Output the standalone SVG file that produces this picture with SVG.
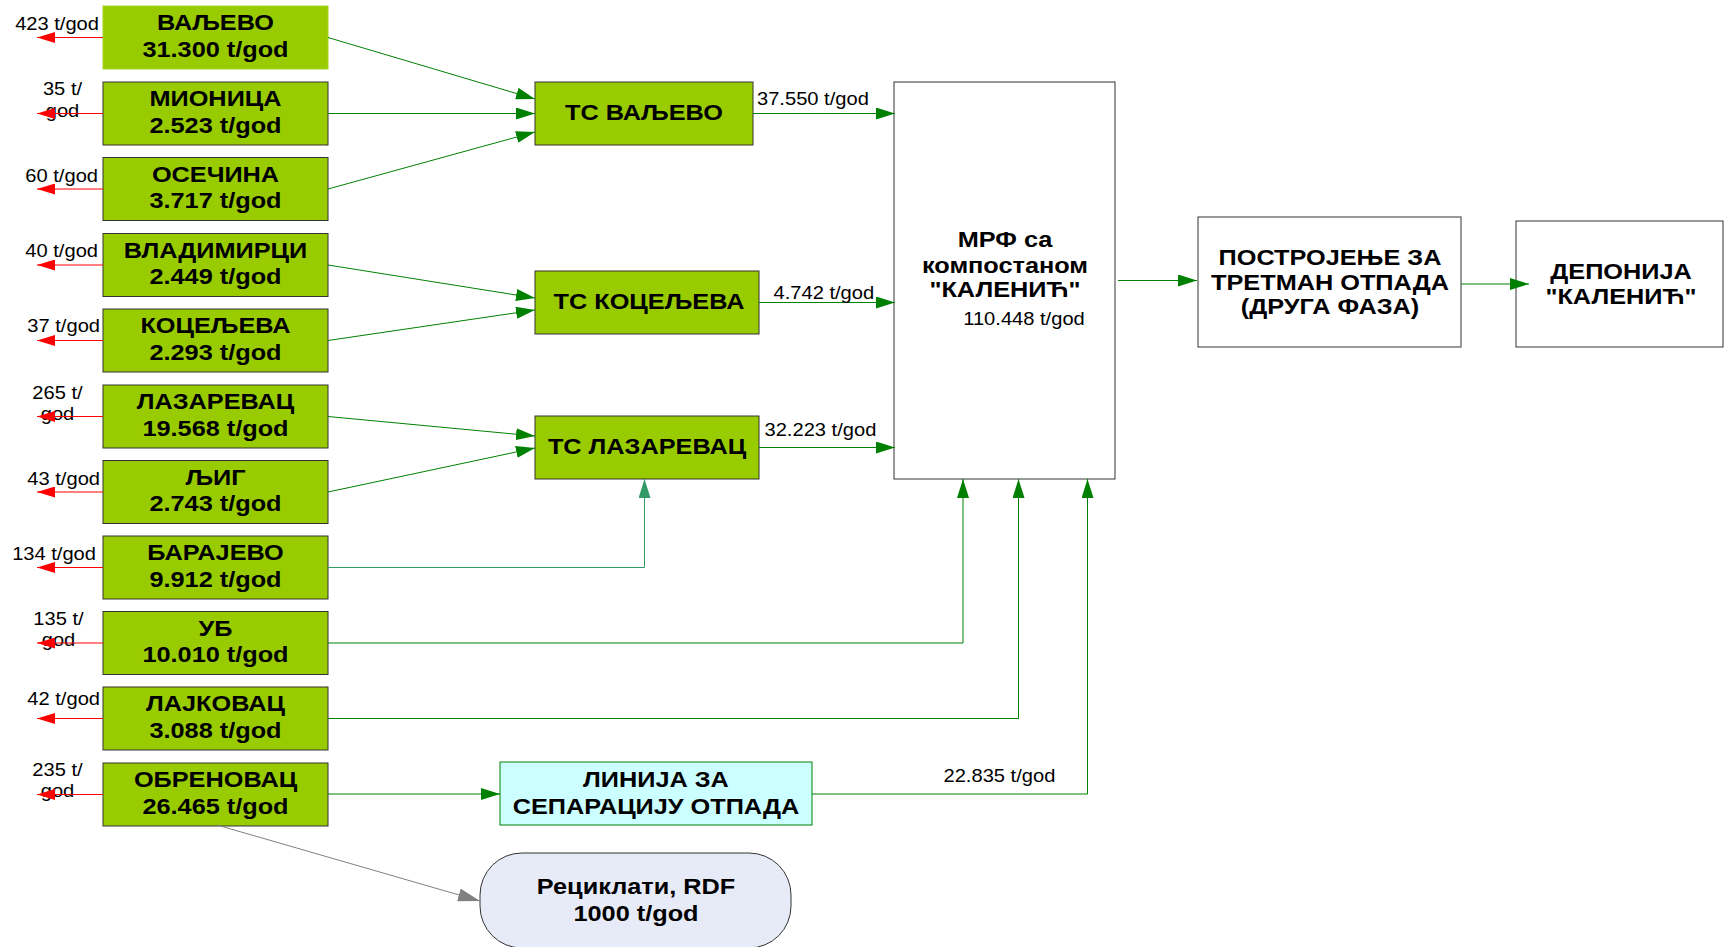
<svg xmlns="http://www.w3.org/2000/svg" width="1724" height="947" viewBox="0 0 1724 947">
<style>
.box{fill:#99cc00;stroke:#333;stroke-width:1}
.wbox{fill:#fff;stroke:#333;stroke-width:1}
.b{font-family:"Liberation Sans",Arial,sans-serif;font-weight:bold;font-size:22px;fill:#000;text-anchor:middle}
.r{font-family:"Liberation Sans",Arial,sans-serif;font-size:17.5px;fill:#000}
.e{text-anchor:end}
.m{text-anchor:middle}
.g{stroke:#008000;stroke-width:1;fill:none;marker-end:url(#ag)}
.t{stroke:#339966;stroke-width:1;fill:none;marker-end:url(#at)}
.red{stroke:#ff0000;stroke-width:1;fill:none;marker-end:url(#ar)}
.gr{stroke:#808080;stroke-width:1;fill:none;marker-end:url(#agr)}
</style>
<defs>
<marker id="ag" viewBox="0 0 19 12" refX="19" refY="6" markerWidth="19" markerHeight="12" orient="auto" markerUnits="userSpaceOnUse"><path d="M0,0 L19,6 L0,12 z" fill="#008000"/></marker>
<marker id="at" viewBox="0 0 19 12" refX="19" refY="6" markerWidth="19" markerHeight="12" orient="auto" markerUnits="userSpaceOnUse"><path d="M0,0 L19,6 L0,12 z" fill="#339966"/></marker>
<marker id="ar" viewBox="0 0 18 11" refX="18" refY="5.5" markerWidth="18" markerHeight="11" orient="auto" markerUnits="userSpaceOnUse"><path d="M0,0 L18,5.5 L0,11 z" fill="#ff0000"/></marker>
<marker id="agr" viewBox="0 0 22 13" refX="22" refY="6.5" markerWidth="22" markerHeight="13" orient="auto" markerUnits="userSpaceOnUse"><path d="M0,0 L22,6.5 L0,13 z" fill="#808080"/></marker>
</defs>
<rect width="1724" height="947" fill="#fff"/>

<g id="valjevo"><rect x="103" y="6" width="225" height="63" fill="#99cc00" stroke="#a8d420"/>
<text class="b" transform="translate(215.5 0) scale(1.15 1)"><tspan x="0" y="30.5">ВАЉЕВО</tspan><tspan x="0" y="57">31.300 t/god</tspan></text>
<text class="r e" transform="translate(99 0) scale(1.15 1)" x="0" y="30">423 t/god</text></g>

<g id="mionica"><rect class="box" x="103" y="82" width="225" height="63"/>
<text class="b" transform="translate(215.5 0) scale(1.15 1)"><tspan x="0" y="106.5">МИОНИЦА</tspan><tspan x="0" y="133">2.523 t/god</tspan></text>
<text class="r m" transform="translate(62.5 0) scale(1.15 1)"><tspan x="0" y="95">35 t/</tspan><tspan x="0" y="117">god</tspan></text></g>

<g id="osecina"><rect class="box" x="103" y="157.5" width="225" height="63"/>
<text class="b" transform="translate(215.5 0) scale(1.15 1)"><tspan x="0" y="182">ОСЕЧИНА</tspan><tspan x="0" y="208.5">3.717 t/god</tspan></text>
<text class="r e" transform="translate(98 0) scale(1.15 1)" x="0" y="182">60 t/god</text></g>

<g id="vladimirci"><rect class="box" x="103" y="233.5" width="225" height="63"/>
<text class="b" transform="translate(215.5 0) scale(1.15 1)"><tspan x="0" y="258">ВЛАДИМИРЦИ</tspan><tspan x="0" y="284.5">2.449 t/god</tspan></text>
<text class="r e" transform="translate(98 0) scale(1.15 1)" x="0" y="257">40 t/god</text></g>

<g id="koceljeva"><rect class="box" x="103" y="309" width="225" height="63"/>
<text class="b" transform="translate(215.5 0) scale(1.15 1)"><tspan x="0" y="333.5">КОЦЕЉЕВА</tspan><tspan x="0" y="360">2.293 t/god</tspan></text>
<text class="r e" transform="translate(100 0) scale(1.15 1)" x="0" y="332">37 t/god</text></g>

<g id="lazarevac"><rect class="box" x="103" y="385" width="225" height="63"/>
<text class="b" transform="translate(215.5 0) scale(1.15 1)"><tspan x="0" y="409.5">ЛАЗАРЕВАЦ</tspan><tspan x="0" y="436">19.568 t/god</tspan></text>
<text class="r m" transform="translate(57.5 0) scale(1.15 1)"><tspan x="0" y="399">265 t/</tspan><tspan x="0" y="420">god</tspan></text></g>

<g id="ljig"><rect class="box" x="103" y="460.5" width="225" height="63"/>
<text class="b" transform="translate(215.5 0) scale(1.15 1)"><tspan x="0" y="485">ЉИГ</tspan><tspan x="0" y="511.5">2.743 t/god</tspan></text>
<text class="r e" transform="translate(100 0) scale(1.15 1)" x="0" y="485">43 t/god</text></g>

<g id="barajevo"><rect class="box" x="103" y="536" width="225" height="63"/>
<text class="b" transform="translate(215.5 0) scale(1.15 1)"><tspan x="0" y="560.5">БАРАЈЕВО</tspan><tspan x="0" y="587">9.912 t/god</tspan></text>
<text class="r e" transform="translate(96 0) scale(1.15 1)" x="0" y="560.5">134 t/god</text></g>

<g id="ub"><rect class="box" x="103" y="611.5" width="225" height="63"/>
<text class="b" transform="translate(215.5 0) scale(1.15 1)"><tspan x="0" y="636">УБ</tspan><tspan x="0" y="662.5">10.010 t/god</tspan></text>
<text class="r m" transform="translate(58.5 0) scale(1.15 1)"><tspan x="0" y="625">135 t/</tspan><tspan x="0" y="646.5">god</tspan></text></g>

<g id="lajkovac"><rect class="box" x="103" y="687" width="225" height="63"/>
<text class="b" transform="translate(215.5 0) scale(1.15 1)"><tspan x="0" y="711.5">ЛАЈКОВАЦ</tspan><tspan x="0" y="738">3.088 t/god</tspan></text>
<text class="r e" transform="translate(100 0) scale(1.15 1)" x="0" y="705">42 t/god</text></g>

<g id="obrenovac"><rect class="box" x="103" y="763" width="225" height="63"/>
<text class="b" transform="translate(215.5 0) scale(1.15 1)"><tspan x="0" y="787.5">ОБРЕНОВАЦ</tspan><tspan x="0" y="814">26.465 t/god</tspan></text>
<text class="r m" transform="translate(57.5 0) scale(1.15 1)"><tspan x="0" y="776.5">235 t/</tspan><tspan x="0" y="797.5">god</tspan></text></g>

<g id="ts-valjevo"><rect class="box" x="535" y="82" width="218" height="63"/>
<text class="b" transform="translate(644 0) scale(1.15 1)" x="0" y="120.5">ТС ВАЉЕВО</text></g>

<g id="ts-koceljeva"><rect class="box" x="535" y="271" width="224" height="63"/>
<text class="b" transform="translate(649 0) scale(1.15 1)" x="0" y="309.5">ТС КОЦЕЉЕВА</text></g>

<g id="ts-lazarevac"><rect class="box" x="535" y="416" width="224" height="63"/>
<text class="b" transform="translate(647 0) scale(1.15 1)" x="0" y="454.5">ТС ЛАЗАРЕВАЦ</text></g>

<g id="mrf"><rect class="wbox" x="894" y="82" width="221" height="397"/>
<text class="b" transform="translate(1005 0) scale(1.15 1)"><tspan x="0" y="247">МРФ са</tspan><tspan x="0" y="273">компостаном</tspan><tspan x="0" y="297.5">"КАЛЕНИЋ"</tspan></text>
<text class="r m" transform="translate(1024 0) scale(1.15 1)" x="0" y="325">110.448 t/god</text></g>

<g id="postrojenje"><rect class="wbox" x="1198" y="217" width="263" height="130"/>
<text class="b" transform="translate(1330 0) scale(1.15 1)"><tspan x="0" y="265">ПОСТРОЈЕЊЕ ЗА</tspan><tspan x="0" y="290">ТРЕТМАН ОТПАДА</tspan><tspan x="0" y="314.5">(ДРУГА ФАЗА)</tspan></text></g>

<g id="deponija"><rect class="wbox" x="1516" y="221" width="207" height="126"/>
<text class="b" transform="translate(1621 0) scale(1.15 1)"><tspan x="0" y="279">ДЕПОНИЈА</tspan><tspan x="0" y="304">"КАЛЕНИЋ"</tspan></text></g>

<g id="separacija"><rect x="500" y="762" width="312" height="63" fill="#ccffff" stroke="#008000"/>
<text class="b" transform="translate(656 0) scale(1.15 1)"><tspan x="0" y="787">ЛИНИЈА ЗА</tspan><tspan x="0" y="814">СЕПАРАЦИЈУ ОТПАДА</tspan></text></g>

<g id="reciklati"><rect x="480" y="853" width="311" height="95" rx="42" ry="42" fill="#e6ebf7" stroke="#333"/>
<text class="b" transform="translate(636 0) scale(1.15 1)"><tspan x="0" y="894">Рециклати, RDF</tspan><tspan x="0" y="921.5">1000 t/god</tspan></text></g>

<g id="connectors">
<path class="red" d="M103,37.5 H37"/>
<path class="red" d="M103,113.5 H37"/>
<path class="red" d="M103,189 H37"/>
<path class="red" d="M103,265 H37"/>
<path class="red" d="M103,340.5 H37"/>
<path class="red" d="M103,416.5 H37"/>
<path class="red" d="M103,492 H37"/>
<path class="red" d="M103,567.5 H37"/>
<path class="red" d="M103,643 H37"/>
<path class="red" d="M103,718.5 H37"/>
<path class="red" d="M103,794.5 H37"/>
<path class="g" d="M328,37.5 L535,99"/>
<path class="g" d="M328,113.5 L535,113.5"/>
<path class="g" d="M328,189 L535,132"/>
<path class="g" d="M328,265 L535,298"/>
<path class="g" d="M328,340.5 L535,310"/>
<path class="g" d="M328,416.5 L535,436"/>
<path class="g" d="M328,492 L535,448"/>
<path class="t" d="M328,567.5 H644.5 V479"/>
<path class="g" d="M328,643 H963 V479"/>
<path class="g" d="M328,718.5 H1018.5 V479"/>
<path class="g" d="M328,794 H500"/>
<path class="g" d="M812,794 H1087.5 V479"/>
<path class="gr" d="M217,825 L480,901"/>
<path class="g" d="M753,113.5 H895"/>
<path class="g" d="M759,302.5 H895"/>
<path class="g" d="M759,447.5 H895"/>
<path class="g" d="M1118,280.5 H1197"/>
<path class="g" d="M1461,284 H1529"/>
<text class="r" transform="translate(757 0) scale(1.15 1)" x="0" y="105">37.550 t/god</text>
<text class="r" transform="translate(773.5 0) scale(1.15 1)" x="0" y="299.5">4.742 t/god</text>
<text class="r" transform="translate(764.5 0) scale(1.15 1)" x="0" y="436">32.223 t/god</text>
<text class="r" transform="translate(943.5 0) scale(1.15 1)" x="0" y="782.5">22.835 t/god</text>
</g>
</svg>
